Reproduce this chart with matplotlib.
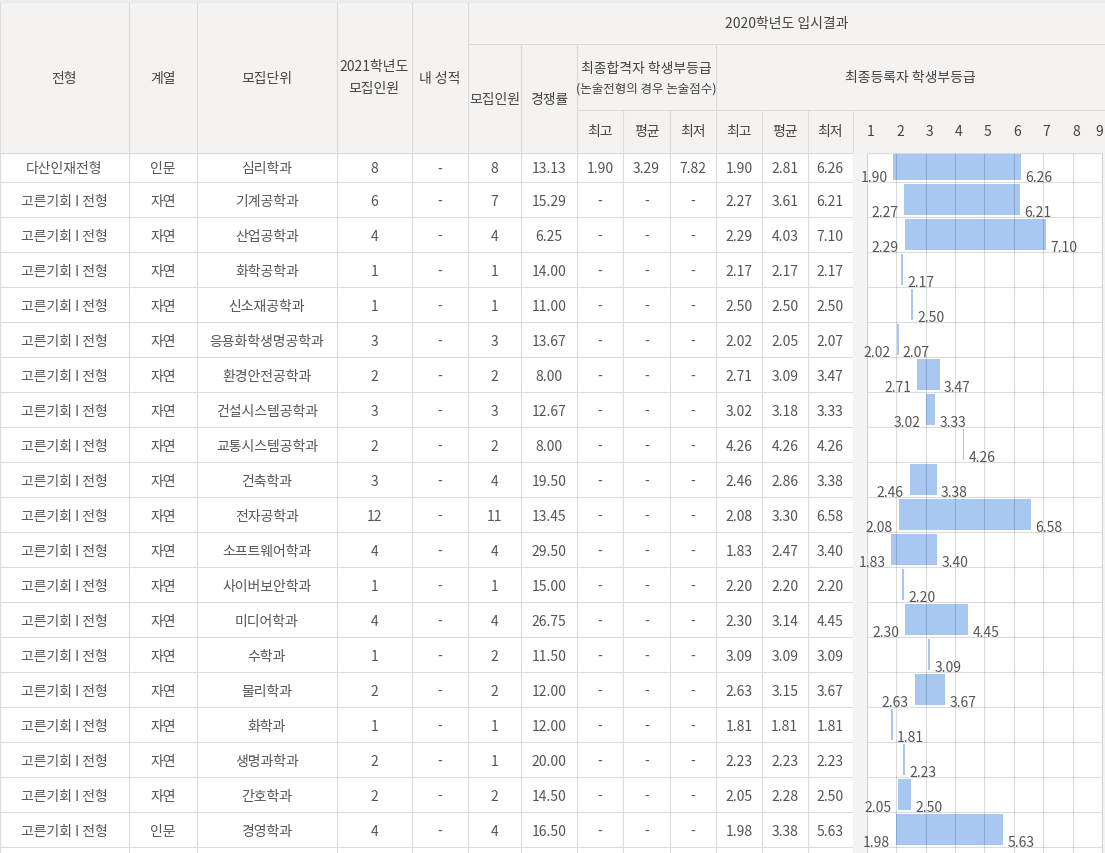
import matplotlib.pyplot as plt
from matplotlib.patches import Rectangle

plt.rcParams['font.family'] = ['Noto Sans CJK KR', 'DejaVu Sans']

# table data
jeonhyeong = ['다산인재전형'] + ['고른기회 I 전형'] * 19
gyeyeol = ['인문'] + ['자연'] * 18 + ['인문']
units = ['심리학과', '기계공학과', '산업공학과', '화학공학과', '신소재공학과',
         '응용화학생명공학과', '환경안전공학과', '건설시스템공학과', '교통시스템공학과',
         '건축학과', '전자공학과', '소프트웨어학과', '사이버보안학과', '미디어학과',
         '수학과', '물리학과', '화학과', '생명과학과', '간호학과', '경영학과']
recruit_2021 = [8, 6, 4, 1, 1, 3, 2, 3, 2, 3, 12, 4, 1, 4, 1, 2, 1, 2, 2, 4]
my_grade = ['-'] * 20
recruit_2020 = [8, 7, 4, 1, 1, 3, 2, 3, 2, 4, 11, 4, 1, 4, 2, 2, 1, 1, 2, 4]
rate = [13.13, 15.29, 6.25, 14.00, 11.00, 13.67, 8.00, 12.67, 8.00, 19.50,
        13.45, 29.50, 15.00, 26.75, 11.50, 12.00, 12.00, 20.00, 14.50, 16.50]
pass_best = [1.90] + [None] * 19
pass_avg = [3.29] + [None] * 19
pass_worst = [7.82] + [None] * 19
reg_best = [1.90, 2.27, 2.29, 2.17, 2.50, 2.02, 2.71, 3.02, 4.26, 2.46,
            2.08, 1.83, 2.20, 2.30, 3.09, 2.63, 1.81, 2.23, 2.05, 1.98]
reg_avg = [2.81, 3.61, 4.03, 2.17, 2.50, 2.05, 3.09, 3.18, 4.26, 2.86,
           3.30, 2.47, 2.20, 3.14, 3.09, 3.15, 1.81, 2.23, 2.28, 3.38]
reg_worst = [6.26, 6.21, 7.10, 2.17, 2.50, 2.07, 3.47, 3.33, 4.26, 3.38,
             6.58, 3.40, 2.20, 4.45, 3.09, 3.67, 1.81, 2.23, 2.50, 5.63]
grades = [1, 2, 3, 4, 5, 6, 7, 8, 9]

W, H = 1105, 854
LINE = '#dcdcdc'
HEAD_BG = '#f5f3f1'
TXT = '#555555'
HEAD_TXT = '#444444'
FS = 10

# column edges (pixels)
col_x = [0, 128.7, 197, 336.7, 411.7, 468, 520.7, 577, 623.3, 669.7, 716, 762, 807.5, 853, W]
row_edges = [153.5, 183.3] + [183.3 + 35 * (i + 1) for i in range(19)]

fig = plt.figure(figsize=(W / 100, H / 100), dpi=100)
ax = fig.add_axes([0, 0, 1, 1])
ax.set_xlim(0, W)
ax.set_ylim(H, 0)
ax.axis('off')

# header background + top shadow
ax.add_patch(Rectangle((0, 3), W, 150.5, color=HEAD_BG, zorder=0))
ax.add_patch(Rectangle((0, 0), W, 3, color='#ebebeb', zorder=0))

# lines
lw = 0.8
ax.vlines([0, 128.7, 197, 336.7, 411.7, 468], 3, H, color=LINE, lw=lw)
ax.vlines([520.7, 577, 716], 45, H, color=LINE, lw=lw)
ax.vlines([623.3, 669.7, 762, 807.5, 853], 111, H, color=LINE, lw=lw)
ax.hlines(45, 468, W, color=LINE, lw=lw)
ax.hlines(111, 577, W, color=LINE, lw=lw)
ax.hlines(row_edges, 0, W, color=LINE, lw=lw, zorder=4)


def cx(i):
    return (col_x[i] + col_x[i + 1]) / 2


def htext(x, y, s, size=FS):
    ax.text(x, y, s, ha='center', va='center', fontsize=size, color=HEAD_TXT)


htext(cx(0), 79, '전형')
htext(cx(1), 79, '계열')
htext(cx(2), 79, '모집단위')
htext(cx(3), 67, '2021학년도')
htext(cx(3), 89, '모집인원')
htext(cx(4), 79, '내 성적')
htext((468 + W) / 2, 24, '2020학년도 입시결과')
htext(cx(5), 100, '모집인원')
htext(cx(6), 100, '경쟁률')
htext((577 + 716) / 2, 69, '최종합격자 학생부등급')
htext((577 + 716) / 2, 89, '(논술전형의 경우 논술점수)', size=9)
htext((716 + W) / 2, 78, '최종등록자 학생부등급')
for k, s in enumerate(['최고', '평균', '최저', '최고', '평균', '최저']):
    htext(cx(7 + k), 132, s)


def fmt(v):
    return '-' if v is None else f'{v:.2f}'


for i in range(len(units)):
    y = (row_edges[i] + row_edges[i + 1]) / 2 + 1
    cells = [jeonhyeong[i], gyeyeol[i], units[i], str(recruit_2021[i]), my_grade[i],
             str(recruit_2020[i]), f'{rate[i]:.2f}', fmt(pass_best[i]), fmt(pass_avg[i]),
             fmt(pass_worst[i]), fmt(reg_best[i]), fmt(reg_avg[i]), fmt(reg_worst[i])]
    for j, s in enumerate(cells):
        ax.text(cx(j), y, s, ha='center', va='center', fontsize=FS, color=TXT)

# bar chart column
px_per_grade = 29.36
g1_px = 867
g_left = 1 - (g1_px - 853) / px_per_grade
g_right = 1 + (W - g1_px) / px_per_grade
cax = fig.add_axes([853 / W, 0, (W - 853) / W, 1])
cax.set_xlim(g_left, g_right)
cax.set_ylim(H, 0)
cax.axis('off')

cax.add_patch(Rectangle((g_left, 153.5), 1 - g_left, H - 153.5, color='#f4f4f4', zorder=0))
cax.add_patch(Rectangle((9, 153.5), g_right - 9, H - 153.5, color='#f4f4f4', zorder=0))
# grid drawn over the bars, semi transparent so it darkens inside them
cax.vlines(grades, 153.5, H, color='black', alpha=0.14, lw=lw, zorder=4)

for g in grades:
    cax.text(min(g + 0.12, 8.9), 132, str(g), ha='center', va='center', fontsize=FS, color=HEAD_TXT)

gap = 6 / px_per_grade
for i in range(len(units)):
    lo, hi = reg_best[i], reg_worst[i]
    top = row_edges[i] + 1.5
    bottom = row_edges[i + 1] - 2.5
    width = max(hi - lo, 0.06)
    cax.barh((top + bottom) / 2, width, left=lo, height=bottom - top,
             color='#7aa9ea', alpha=0.65, zorder=3)
    base = row_edges[i + 1] - 1
    if lo != hi:
        cax.text(lo - gap, base, f'{lo:.2f}', ha='right', va='baseline', fontsize=FS, color=TXT, zorder=5)
    cax.text(lo + width + gap * 0.7, base, f'{hi:.2f}', ha='left', va='baseline', fontsize=FS, color=TXT, zorder=5)

fig.savefig('out.png', dpi=100)
